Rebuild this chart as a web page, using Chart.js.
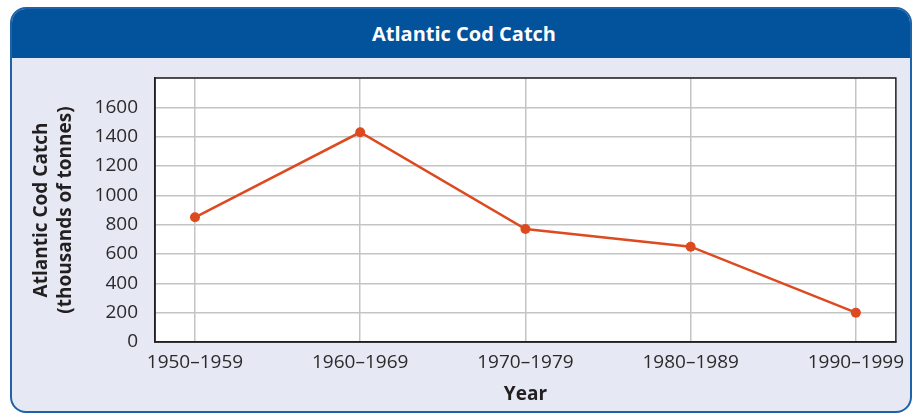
<!DOCTYPE html>
<html>
<head>
<meta charset="utf-8">
<script src="https://cdn.jsdelivr.net/npm/chart.js@4/dist/chart.umd.min.js"></script>
<style>
  html, body { margin: 0; padding: 0; background: #ffffff; }
  #wrap { position: relative; width: 914px; height: 415px; overflow: hidden; }
  #panel {
    position: absolute; left: 10px; top: 7px; width: 898px; height: 402px;
    border: 2px solid #1E62AA; border-radius: 16px; background: #E6E8F4; overflow: hidden;
  }
  #header {
    position: absolute; left: 0; top: 0; width: 100%; height: 49px; background: #03529C;
    color: #ffffff; font-family: "Open Sans", sans-serif; font-weight: 700; font-size: 20px;
    line-height: 49px; text-align: center;
  }
  #header span { display: inline-block; margin-left: 6px; }
  #c { position: absolute; left: 0; top: 0; }
</style>
</head>
<body>
<div id="wrap">
  <div id="panel"><div id="header"><span>Atlantic Cod Catch</span></div></div>
  <canvas id="c" width="914" height="415"></canvas>
</div>
<script>
const categories = ['1950–1959', '1960–1969', '1970–1979', '1980–1989', '1990–1999'];
const catchValues = [850, 1430, 770, 650, 200];
const yTickValues = [0, 200, 400, 600, 800, 1000, 1200, 1400, 1600];
const yAxisTitle = ['Atlantic Cod Catch', '(thousands of tonnes)'];
const xAxisTitle = 'Year';

const points = catchValues.map((v, i) => ({ x: i, y: v }));

const areaPlugin = {
  id: 'areaPlugin',
  beforeDraw(chart) {
    const { ctx, chartArea: a } = chart;
    ctx.save();
    ctx.fillStyle = '#ffffff';
    ctx.fillRect(a.left, a.top, a.right - a.left, a.bottom - a.top);
    ctx.restore();
  },
  beforeDatasetsDraw(chart) {
    const { ctx, chartArea: a } = chart;
    ctx.save();
    ctx.strokeStyle = '#231F20';
    ctx.lineWidth = 1.5;
    ctx.strokeRect(a.left, a.top, a.right - a.left, a.bottom - a.top);
    ctx.restore();
  }
};

new Chart(document.getElementById('c'), {
  type: 'line',
  data: {
    datasets: [{
      data: points,
      borderColor: '#DE4A1F',
      backgroundColor: '#DE4A1F',
      borderWidth: 2.5,
      pointRadius: 5,
      pointHoverRadius: 5,
      pointBorderWidth: 0,
      tension: 0
    }]
  },
  options: {
    responsive: false,
    animation: false,
    events: [],
    layout: { padding: { left: 20, top: 78, right: 17, bottom: 8 } },
    plugins: { legend: { display: false }, tooltip: { enabled: false } },
    scales: {
      x: {
        type: 'linear',
        min: -0.242,
        max: categories.length - 1 + 0.242,
        afterBuildTicks: s => { s.ticks = categories.map((c, i) => ({ value: i })); },
        afterFit: s => { s.height = 65; },
        grid: { color: '#C4C4C4', lineWidth: 1.5, drawTicks: false },
        border: { display: true, color: '#231F20', width: 1.5 },
        ticks: {
          padding: 9,
          color: '#2B2B2B',
          font: { family: 'Open Sans', size: 19 },
          callback: v => categories[v],
          maxRotation: 0,
          autoSkip: false
        },
        title: {
          display: true, text: xAxisTitle, color: '#231F20',
          font: { family: 'Open Sans', size: 19, weight: 'bold' },
          padding: { top: 0, bottom: 1 }
        }
      },
      y: {
        min: 0,
        max: 1800,
        afterBuildTicks: s => { s.ticks = yTickValues.concat([1800]).map(v => ({ value: v })); },
        afterFit: s => { s.width = 135; },
        grid: { color: '#C4C4C4', lineWidth: 1.5, drawTicks: false },
        border: { display: true, color: '#231F20', width: 1.5 },
        ticks: {
          padding: 17,
          color: '#2B2B2B',
          font: { family: 'Open Sans', size: 19 },
          callback: v => (yTickValues.includes(v) ? String(v) : '')
        },
        title: {
          display: true, text: yAxisTitle, color: '#231F20',
          font: { family: 'Open Sans', size: 19, weight: 'bold', lineHeight: 1.25 },
          padding: { top: 10, bottom: 0 }
        }
      }
    }
  },
  plugins: [areaPlugin]
});
</script>
</body>
</html>
